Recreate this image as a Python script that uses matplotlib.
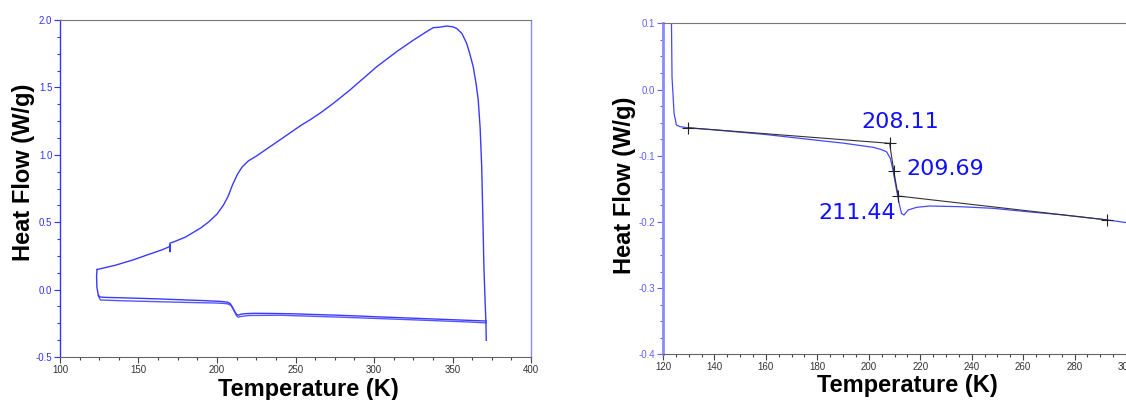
import matplotlib
matplotlib.use("Agg")
import matplotlib.pyplot as plt
from matplotlib.ticker import MultipleLocator

# ---------------- data ----------------
# upper (cooling) trace, left panel
cool_T = [123.6, 127, 135, 146.5, 155, 165, 169.6, 170.0, 170.0, 170.1, 172, 180, 190, 195,
          200, 204, 207, 210, 213, 216, 220, 225, 235, 245, 252.8, 260, 267, 275, 284.6,
          301.7, 315, 325, 333, 337.7, 342, 346.3, 350, 352.6, 356, 359, 361, 363.2, 365,
          366.4, 367.6, 368.6, 369.4, 370, 370.8, 371.3, 371.5]
cool_Y = [0.149, 0.158, 0.18, 0.22, 0.255, 0.295, 0.318, 0.33, 0.28, 0.345, 0.352, 0.39,
          0.46, 0.505, 0.56, 0.625, 0.69, 0.78, 0.855, 0.91, 0.955, 0.99, 1.07, 1.15, 1.213,
          1.265, 1.32, 1.39, 1.48, 1.653, 1.77, 1.85, 1.91, 1.943, 1.947, 1.955, 1.95, 1.938,
          1.90, 1.827, 1.75, 1.653, 1.53, 1.406, 1.20, 0.911, 0.50, 0.169, -0.10, -0.24,
          -0.376]

# heating trace (shown in both panels)
heat_T = [123.6, 123.3, 123.5, 124.3, 125.2, 126.5, 129.7, 140, 160, 178.3, 190, 201.7,
          204.3, 206.9, 208.4, 209.4, 210.8, 211.8, 212.7, 213.7, 215.3, 218.6, 223.7,
          235.4, 248.4, 260, 274.3, 292.7, 300, 320, 340, 360, 371.5]
heat_Y = [0.149, 0.10, 0.019, -0.036, -0.0536, -0.056, -0.058, -0.061, -0.068, -0.076,
          -0.081, -0.0873, -0.090, -0.094, -0.104, -0.1216, -0.1518, -0.172, -0.187,
          -0.1896, -0.182, -0.178, -0.176, -0.177, -0.1795, -0.184, -0.189, -0.197, -0.201,
          -0.210, -0.219, -0.228, -0.233]

# second lower trace, left panel
heat2_T = [124.3, 125.7, 140, 160, 180, 197.5, 204, 207, 209, 211, 212.5, 213.5, 215,
           220, 240, 280, 320, 360, 371.5]
heat2_Y = [-0.045, -0.077, -0.083, -0.089, -0.095, -0.099, -0.102, -0.106, -0.118, -0.16,
           -0.195, -0.205, -0.200, -0.192, -0.190, -0.205, -0.222, -0.240, -0.247]

# onset analysis (right panel)
onset_T = [129.7, 208.11, 209.69, 211.44, 292.7]
onset_Y = [-0.0577, -0.0813, -0.1227, -0.1609, -0.197]
onset_labels = ["208.11", "209.69", "211.44"]

left_xticks = [100, 150, 200, 250, 300, 350, 400]
left_yticks = [-0.5, 0.0, 0.5, 1.0, 1.5, 2.0]
right_xticks = [120, 140, 160, 180, 200, 220, 240, 260, 280, 300]
right_yticks = [-0.4, -0.3, -0.2, -0.1, 0.0, 0.1]

# ---------------- styling ----------------
LINE = "#3a3aff"
plt.rcParams["font.family"] = ["Liberation Sans", "DejaVu Sans"]

fig = plt.figure(figsize=(11.26, 4.0), dpi=100)

def style_axes(ax, ycol, spine_left_col, spine_left_w):
    ax.spines["left"].set_color(spine_left_col)
    ax.spines["left"].set_linewidth(spine_left_w)
    ax.spines["top"].set_color("#777777")
    ax.spines["bottom"].set_color("#666666")
    ax.tick_params(axis="y", which="both", direction="out", colors=ycol,
                   labelsize=7, pad=1.5)
    ax.tick_params(axis="y", which="major", length=4, width=0.8)
    ax.tick_params(axis="y", which="minor", length=2.5, width=0.8)
    ax.tick_params(axis="x", which="both", direction="out", colors="#444444",
                   labelsize=7, pad=1.5, labelcolor="#333333")
    ax.tick_params(axis="x", which="major", length=4, width=0.8)
    ax.tick_params(axis="x", which="minor", length=2.5, width=0.8)

# ---- left panel ----
ax1 = fig.add_axes([60 / 1126, 43 / 400, 471 / 1126, 337 / 400])
ax1.plot(cool_T, cool_Y, color=LINE, lw=1.0)
ax1.plot(heat_T, heat_Y, color=LINE, lw=1.0)
ax1.plot(heat2_T, heat2_Y, color=LINE, lw=1.0, alpha=0.85)
ax1.set_xlim(100, 400)
ax1.set_ylim(-0.5, 2.0)
ax1.set_xticks(left_xticks)
ax1.set_yticks(left_yticks)
ax1.set_xticklabels([str(v) for v in left_xticks])
ax1.set_yticklabels([f"{v:.1f}" for v in left_yticks])
ax1.xaxis.set_minor_locator(MultipleLocator(12.5))
ax1.yaxis.set_minor_locator(MultipleLocator(0.125))
style_axes(ax1, "#3333ff", "#3333ff", 1.0)
ax1.spines["right"].set_color("#8a8aff")
ax1.spines["right"].set_linewidth(1.0)

# ---- right panel ----
ax2 = fig.add_axes([663 / 1126, 45.7 / 400, (1126 - 663) / 1126, 331 / 400])
ax2.plot(heat_T, heat_Y, color="#4848ff", lw=0.9, clip_on=True)
# baselines and tangent
ax2.plot(onset_T[0:2], onset_Y[0:2], color="#333333", lw=0.8)
ax2.plot(onset_T[1:4], onset_Y[1:4], color="#333333", lw=0.8)
ax2.plot(onset_T[3:5], onset_Y[3:5], color="#333333", lw=0.8)
ax2.plot(onset_T, onset_Y, linestyle="none", marker="+", color="#222222",
         markersize=8, markeredgewidth=0.8)
ax2.text(197.2, -0.0486, onset_labels[0], color="#1010ff", fontsize=16,
         family="DejaVu Sans", ha="left", va="center")
ax2.text(214.7, -0.1205, onset_labels[1], color="#1010ff", fontsize=16,
         family="DejaVu Sans", ha="left", va="center")
ax2.text(210.5, -0.187, onset_labels[2], color="#1010ff", fontsize=16,
         family="DejaVu Sans", ha="right", va="center")
ax2.set_xlim(120, 300)
ax2.set_ylim(-0.4, 0.1)
ax2.set_xticks(right_xticks)
ax2.set_yticks(right_yticks)
ax2.set_xticklabels([str(v) for v in right_xticks])
ax2.set_yticklabels([f"{v:.1f}" for v in right_yticks])
ax2.xaxis.set_minor_locator(MultipleLocator(5))
ax2.yaxis.set_minor_locator(MultipleLocator(0.025))
style_axes(ax2, "#6060ff", "#8a8aff", 2.0)
ax2.spines["right"].set_visible(False)

# axis labels
lab = dict(fontsize=17, fontweight="bold", color="black")
fig.text(24 / 1126, 1 - 172.5 / 400, "Heat Flow (W/g)", rotation=90,
         ha="center", va="center", **lab)
fig.text(308 / 1126, 1 - 378 / 400, "Temperature (K)", ha="center", va="top", **lab)
fig.text(625 / 1126, 1 - 185 / 400, "Heat Flow (W/g)", rotation=90,
         ha="center", va="center", **lab)
fig.text(907.5 / 1126, 1 - 374 / 400, "Temperature (K)", ha="center", va="top", **lab)

fig.savefig("out.png", dpi=100)
